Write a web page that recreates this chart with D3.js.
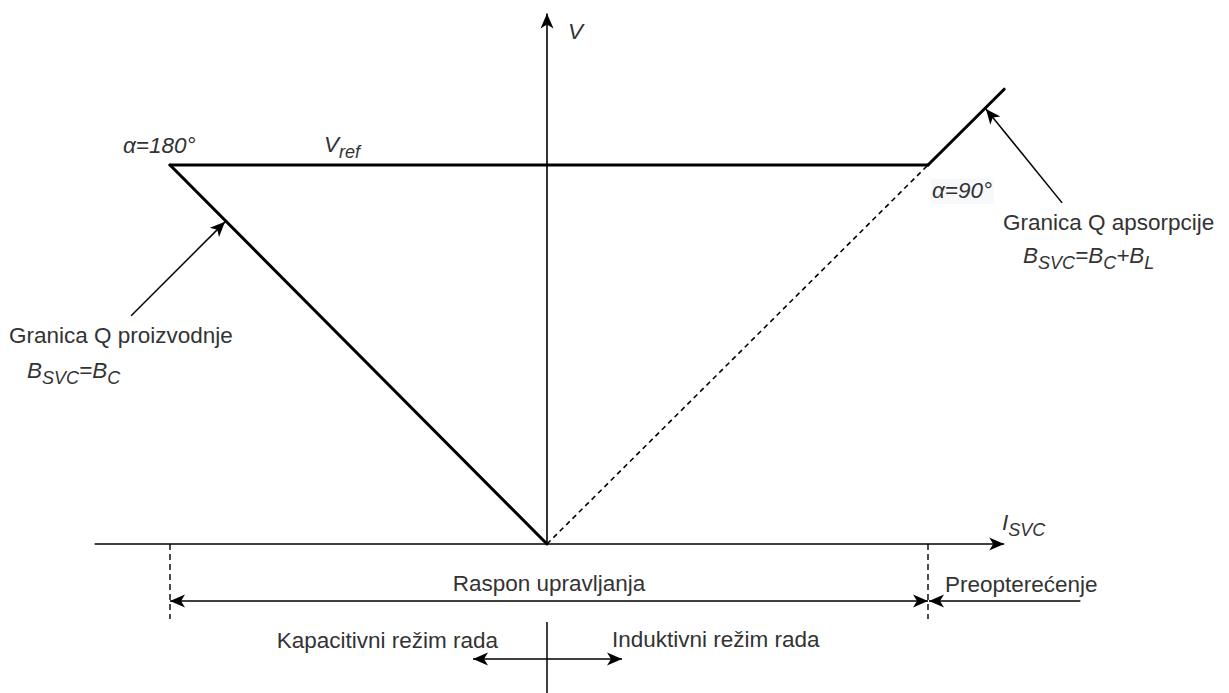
<!DOCTYPE html>
<html>
<head>
<meta charset="utf-8">
<script src="https://cdn.jsdelivr.net/npm/d3@7"></script>
<style>
  html, body { margin: 0; padding: 0; background: #fff; }
  svg { display: block; }
  text { font-family: "Liberation Sans", Arial, Helvetica, sans-serif; fill: #333; }
</style>
</head>
<body>
<script>
// ---------- data (diagram values in normalised units: I_SVC and V) ----------
const currentAxisRange = [-1.2, 1.2];      // I_SVC axis extent
const voltageAxisMax = 1.4;                // V axis extent
const controlLimits = [-1, 0, 1];          // capacitive limit, origin, inductive limit
const vrefLineI = [-1, 1];                 // V = Vref plateau
const vrefLineV = [1, 1];
const productionLimitI = [-1, 0];          // B_SVC = B_C
const productionLimitV = [1, 0];
const absorptionLimitI = [1, 1.2];         // B_SVC = B_C + B_L
const absorptionLimitV = [1, 1.2];
const dashedSlopeI = [0, 1];
const dashedSlopeV = [0, 1];
const pointerProductionI = [-1.103, -0.854];
const pointerProductionV = [0.602, 0.85];
const pointerAbsorptionI = [1.352, 1.152];
const pointerAbsorptionV = [0.90, 1.148];
const overloadEndI = 1.4;

// ---------- layout ----------
const W = 1229, H = 693;
const x = d3.scaleLinear().domain(controlLimits).range([170, 547, 928]);
const y = d3.scaleLinear().domain([0, 1]).range([544, 165]);

const svg = d3.select("body").append("svg").attr("width", W).attr("height", H);

const defs = svg.append("defs");
defs.append("marker")
  .attr("id", "arr")
  .attr("markerUnits", "userSpaceOnUse")
  .attr("viewBox", "-16 -8 17 16")
  .attr("markerWidth", 17).attr("markerHeight", 16)
  .attr("refX", 0).attr("refY", 0)
  .attr("orient", "auto-start-reverse")
  .append("path")
  .attr("d", "M0,0 L-15,-6.5 L-11,0 L-15,6.5 Z")
  .attr("fill", "#000");

const line = d3.line().x(d => x(d[0])).y(d => y(d[1]));
const pts = (I, V) => I.map((v, i) => [v, V[i]]);

// axes
svg.append("path").attr("d", line([[currentAxisRange[0], 0], [currentAxisRange[1], 0]]))
  .attr("stroke", "#000").attr("stroke-width", 1.6).attr("fill", "none")
  .attr("marker-end", "url(#arr)");
svg.append("path").attr("d", line([[0, 0], [0, voltageAxisMax]]))
  .attr("stroke", "#000").attr("stroke-width", 1.6).attr("fill", "none")
  .attr("marker-end", "url(#arr)");

// dashed slope
svg.append("path").attr("d", line(pts(dashedSlopeI, dashedSlopeV)))
  .attr("stroke", "#000").attr("stroke-width", 1.6).attr("stroke-dasharray", "5,4")
  .attr("fill", "none");

// thick characteristic
[[productionLimitI, productionLimitV], [vrefLineI, vrefLineV], [absorptionLimitI, absorptionLimitV]]
  .forEach(([I, V]) => {
    svg.append("path").attr("d", line(pts(I, V)))
      .attr("stroke", "#000").attr("stroke-width", 3).attr("fill", "none")
      .attr("stroke-linecap", "round").attr("stroke-linejoin", "round");
  });

// pointer arrows
[[pointerProductionI, pointerProductionV], [pointerAbsorptionI, pointerAbsorptionV]].forEach(([I, V]) => {
  svg.append("path").attr("d", line(pts(I, V)))
    .attr("stroke", "#000").attr("stroke-width", 1.5).attr("fill", "none")
    .attr("marker-end", "url(#arr)");
});

// range dimension lines below the axis
const dimY = 601, modeY = 659;
[controlLimits[0], controlLimits[2]].forEach(v => {
  svg.append("line").attr("x1", x(v)).attr("x2", x(v)).attr("y1", y(0)).attr("y2", 619)
    .attr("stroke", "#000").attr("stroke-width", 1.4).attr("stroke-dasharray", "6,4");
});
svg.append("line").attr("x1", x(controlLimits[0])).attr("x2", x(controlLimits[2]))
  .attr("y1", dimY).attr("y2", dimY).attr("stroke", "#000").attr("stroke-width", 1.5)
  .attr("marker-start", "url(#arr)").attr("marker-end", "url(#arr)");
svg.append("line").attr("x1", x(overloadEndI)).attr("x2", x(controlLimits[2]) + 1)
  .attr("y1", dimY).attr("y2", dimY).attr("stroke", "#000").attr("stroke-width", 1.5)
  .attr("marker-end", "url(#arr)");

// operating-mode cross
svg.append("line").attr("x1", x(0)).attr("x2", x(0)).attr("y1", 622).attr("y2", H)
  .attr("stroke", "#000").attr("stroke-width", 1.5);
svg.append("line").attr("x1", x(0) - 74).attr("x2", x(0) + 75)
  .attr("y1", modeY).attr("y2", modeY).attr("stroke", "#000").attr("stroke-width", 1.5)
  .attr("marker-start", "url(#arr)").attr("marker-end", "url(#arr)");

// ---------- texts ----------
const FS = 22.5, SUB = 18;
function label(px, py, parts, opts = {}) {
  const t = svg.append("text").attr("x", px).attr("y", py)
    .attr("font-size", FS)
    .attr("text-anchor", opts.anchor || "start");
  if (opts.italic) t.attr("font-style", "italic");
  let sub = false;
  parts.forEach(p => {
    const isSub = Array.isArray(p);
    const s = t.append("tspan").text(isSub ? p[0] : p);
    if (isSub) {
      s.attr("font-size", SUB);
      if (!sub) s.attr("dy", 6);
      sub = true;
    } else {
      if (sub) s.attr("dy", -6);
      sub = false;
    }
  });
  return t;
}

label(568, 39, ["V"], { italic: true });
label(1002, 530, ["I", ["SVC"]], { italic: true });
label(123, 153, ["α=180°"], { italic: true });
label(324, 152, ["V", ["ref"]], { italic: true });

svg.append("rect").attr("x", 931).attr("y", 179).attr("width", 63).attr("height", 25).attr("fill", "#f7f8f9");
label(932, 198, ["α=90°"], { italic: true });

label(1003, 230, ["Granica Q apsorpcije"]);
label(1023, 263, ["B", ["SVC"], "=B", ["C"], "+B", ["L"]], { italic: true });

label(9, 343, ["Granica Q proizvodnje"]);
label(27, 378, ["B", ["SVC"], "=B", ["C"]], { italic: true });

label(549, 591, ["Raspon upravljanja"], { anchor: "middle" });
label(945, 592, ["Preopterećenje"]);
label(498, 648, ["Kapacitivni režim rada"], { anchor: "end" });
label(612, 647, ["Induktivni režim rada"]);
</script>
</body>
</html>
